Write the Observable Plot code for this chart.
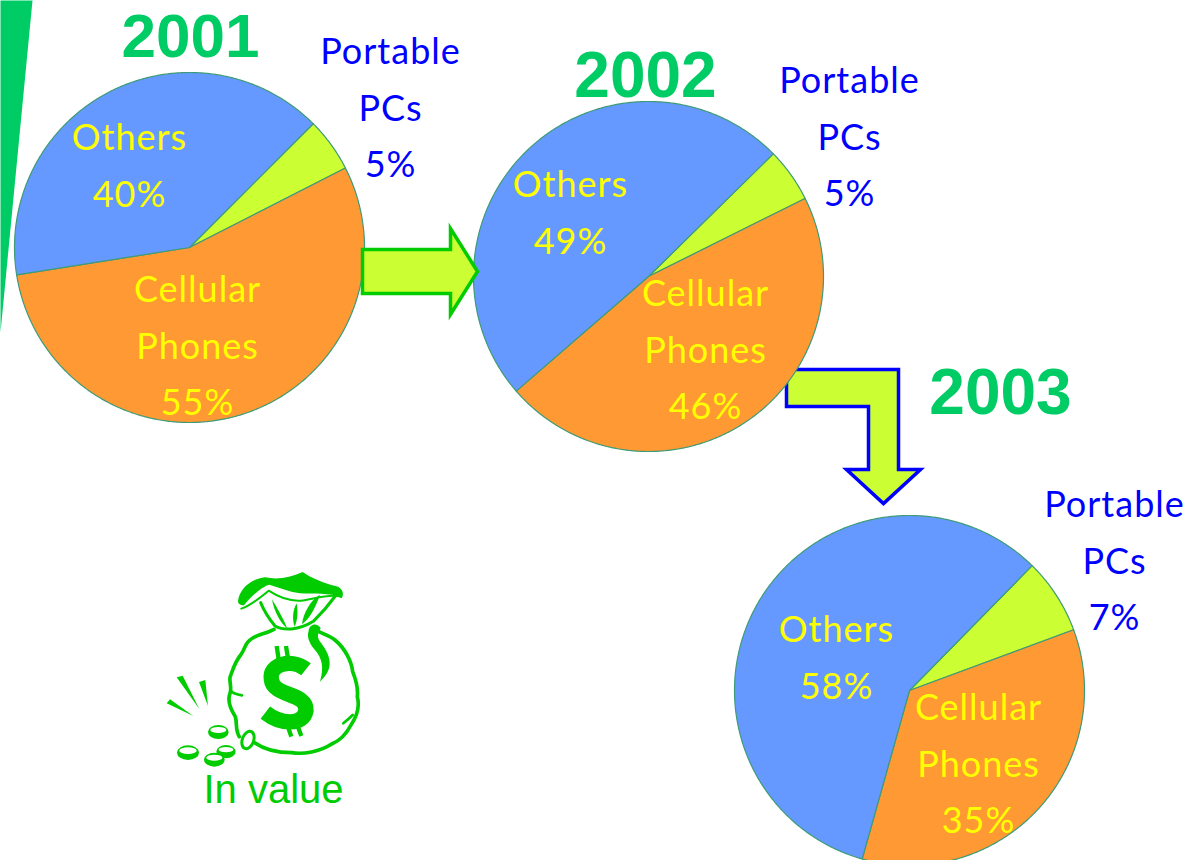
<!DOCTYPE html>
<html><head><meta charset="utf-8">
<script src="https://cdn.jsdelivr.net/npm/d3@7"></script>
<script src="https://cdn.jsdelivr.net/npm/@observablehq/plot@0.6"></script>
<style>
html,body{margin:0;padding:0;background:#fff;overflow:hidden;width:1189px;height:860px}
.comic text{letter-spacing:1px}
</style></head><body><div id="chart"></div>
<script>
// Data
const years = ["2001", "2002", "2003"];
const categories = ["Portable PCs", "Cellular Phones", "Others"];
const portablePCs = [5, 5, 7];
const cellularPhones = [55, 46, 35];
const others = [40, 49, 58];

// Layout
const pieCenters = [[189, 247], [648, 276], [909, 690]];
const pieRadius = 175;
const pieRotation = [45, 45.5, 44.5];
const titlePos = [[190, 37], [645, 76], [1000, 393]];
const titleSize = [62, 64, 64];
const pcsPos = [[390, 52], [849, 81], [1114, 505]];
const othersPos = [[129, 138], [570, 185], [836, 630]];
const cellPos = [[197, 290], [705, 294], [978, 708]];
const lineGap = 56.5;
const sliceFill = {"Portable PCs": "#CCFF33", "Cellular Phones": "#FF9933", "Others": "#6699FF"};
const comic = "Lato";

const deg = Math.PI / 180;
const slicePoints = [];
years.forEach((year, i) => {
  const vals = [portablePCs[i], cellularPhones[i], others[i]];
  const arcs = d3.pie().sort(null)
    .startAngle(pieRotation[i] * deg)
    .endAngle((pieRotation[i] + 360) * deg)(vals);
  arcs.forEach((a, k) => {
    const [cx, cy] = pieCenters[i];
    const id = year + categories[k];
    slicePoints.push({id, cat: categories[k], x: cx, y: cy});
    const n = Math.ceil((a.endAngle - a.startAngle) / (0.5 * deg));
    for (let s = 0; s <= n; s++) {
      const t = a.startAngle + (a.endAngle - a.startAngle) * s / n;
      slicePoints.push({id, cat: categories[k], x: cx + pieRadius * Math.sin(t), y: cy - pieRadius * Math.cos(t)});
    }
  });
});

const titles = years.map((t, i) => ({t, s: titleSize[i], x: titlePos[i][0], y: titlePos[i][1]}));
const blueLabels = years.flatMap((_, i) => ["Portable", "PCs", portablePCs[i] + "%"]
  .map((t, j) => ({t, x: pcsPos[i][0], y: pcsPos[i][1] + j * lineGap})));
const yellowLabels = years.flatMap((_, i) => [
  ...["Others", others[i] + "%"].map((t, j) => ({t, x: othersPos[i][0], y: othersPos[i][1] + j * lineGap})),
  ...["Cellular", "Phones", cellularPhones[i] + "%"].map((t, j) => ({t, x: cellPos[i][0], y: cellPos[i][1] + j * lineGap}))
]);

// Decoration outlines
const wedge = [[0, 0], [32, 0], [0, 332]];
const greenArrow = [[362, 249], [450, 249], [450, 228], [477, 271], [450, 314], [450, 293], [362, 293]];
const blueArrow = [[786, 369], [898, 369], [898, 469], [920, 469], [883, 503], [846, 469], [868, 469], [868, 406], [786, 406]];
const poly = (pts, opts) => Plot.line(pts, {x: d => d[0], y: d => d[1], curve: "linear-closed", strokeLinejoin: "miter", strokeMiterlimit: 10, ...opts});

function moneyBag() {
  const G = "#00CC00";
  const g = d3.create("svg:g").attr("transform", "translate(150,560) scale(0.3333)");
  const fillP = d => g.append("path").attr("d", d).attr("fill", G);
  const line = (d, w) => g.append("path").attr("d", d).attr("fill", "none").attr("stroke", G)
    .attr("stroke-width", w).attr("stroke-linecap", "round").attr("stroke-linejoin", "round");
  // lip
  fillP("M264,124 C268,90 298,58 345,52 C385,60 420,52 458,36 C480,52 525,72 565,80 C580,90 582,102 575,114 C540,96 490,104 450,100 C420,96 390,84 358,74 C335,80 300,112 282,136 C272,136 264,132 264,124 Z");
  line("M274,146 C300,138 332,112 356,92 C390,114 420,124 452,122 C490,118 535,100 574,110", 6);
  // neck
  line("M332,128 C345,160 360,180 375,198 C400,212 445,212 490,184 C515,160 540,130 556,108", 9);
  fillP("M366,118 C385,150 402,180 412,206 C392,190 372,155 366,118 Z");
  fillP("M440,130 C444,150 444,178 434,200 C426,180 428,150 440,130 Z");
  fillP("M510,104 C498,140 478,178 456,192 C460,160 480,122 510,104 Z");
  // body
  line("M372,208 C340,225 320,222 300,240 C285,250 285,268 272,285 C255,305 248,330 240,352 C238,368 246,385 240,400 C232,420 240,445 256,470 C262,490 255,510 268,530", 11);
  line("M242,392 C250,402 262,404 276,406", 8);
  line("M314,548 C345,570 380,578 425,578 C460,584 510,575 545,552 C575,540 590,520 603,495 C620,470 630,440 622,410 C625,385 618,360 608,335 C605,305 585,265 555,240 C540,228 520,222 500,212", 11);
  line("M580,490 C590,482 598,475 608,465", 8);
  fillP("M476,212 C478,192 502,186 512,205 C504,218 498,232 514,250 C540,285 556,325 510,365 C522,325 518,295 493,268 C478,248 470,232 476,212 Z");
  g.append("ellipse").attr("cx", 294).attr("cy", 540).attr("rx", 17).attr("ry", 27)
    .attr("transform", "rotate(20 294 540)").attr("fill", "#fff").attr("stroke", G).attr("stroke-width", 9);
  // dollar
  line("M468,328 C425,294 356,312 364,358 C370,412 472,396 468,452 C460,498 392,494 346,458", 46).attr("stroke-linecap", "butt");
  line("M380,258 L386,298 M408,258 L414,296 M412,495 L424,530 M440,490 L454,528", 13).attr("stroke-linecap", "butt");
  // rays
  fillP("M80,352 L98,347 L148,447 Z");
  fillP("M147,366 L166,360 L174,438 Z");
  fillP("M50,430 L60,418 L130,468 Z");
  // coins
  for (const [cx, cy, rx, ry] of [[228, 572, 29, 18], [205, 513, 31, 19], [114, 575, 33, 20], [193, 596, 31, 19]]) {
    g.append("ellipse").attr("cx", cx).attr("cy", cy + 3).attr("rx", rx).attr("ry", ry + 2).attr("fill", G);
    g.append("ellipse").attr("cx", cx).attr("cy", cy - 3).attr("rx", rx - 7).attr("ry", ry - 10).attr("fill", "#fff");
  }
  return g.node();
}

const sliceMark = cat => Plot.line(slicePoints.filter(d => d.cat === cat), {
  x: "x", y: "y", z: "id", curve: "linear-closed",
  fill: sliceFill[cat], stroke: "#3E9B78", strokeWidth: 1.2
});

const chart = Plot.plot({
  width: 1189, height: 860,
  marginTop: 0, marginRight: 0, marginBottom: 0, marginLeft: 0,
  x: {domain: [0, 1189], range: [0, 1189], axis: null},
  y: {domain: [0, 860], range: [0, 860], axis: null},
  style: {background: "#fff"},
  marks: [
    poly(wedge, {fill: "#00CC66", stroke: "none"}),
    poly(blueArrow, {fill: "#CCFF33", stroke: "#0000FF", strokeWidth: 3.5}),
    ...categories.map(sliceMark),
    poly(greenArrow, {fill: "#CCFF33", stroke: "#00CC00", strokeWidth: 3.5}),
    ...titles.map(d => Plot.text([d], {x: "x", y: "y", text: "t", fill: "#00CC66", fontFamily: "'Liberation Sans'", fontWeight: "bold", fontSize: d.s})),
    Plot.text(blueLabels, {x: "x", y: "y", text: "t", fill: "#0000FF", fontFamily: comic, fontSize: 36, className: "comic"}),
    Plot.text(yellowLabels, {x: "x", y: "y", text: "t", fill: "#FFFF00", fontFamily: comic, fontSize: 36, className: "comic"}),
    moneyBag,
    Plot.text([{t: "In value", x: 273, y: 790}], {x: "x", y: "y", text: "t", fill: "#00CC00", fontFamily: "'Liberation Sans'", fontSize: 40})
  ]
});
document.getElementById("chart").appendChild(chart);
</script></body></html>
